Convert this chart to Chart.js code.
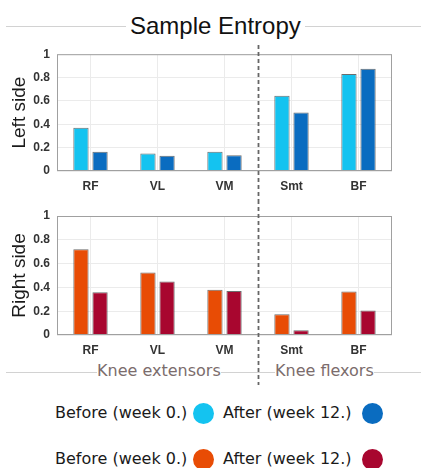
<!DOCTYPE html>
<html>
<head>
<meta charset="utf-8">
<script src="https://cdn.jsdelivr.net/npm/chart.js@4.4.1/dist/chart.umd.min.js"></script>
<style>
  html, body { margin: 0; padding: 0; background: #fff; }
  #page { position: relative; width: 422px; height: 468px; overflow: hidden; }
  .rule { position: absolute; left: 6px; width: 415px; height: 1px; background: #d2d2d2; }
  canvas { position: absolute; left: 0; }
  .lbl { position: absolute; background: #fff; white-space: nowrap; z-index: 2; }
  #title { top: 12px; left: 126px; padding: 0 4px; font: 24px "Liberation Sans", Arial, sans-serif; color: #111; }
  .group { top: 361px; font: 16px "DejaVu Sans", Verdana, sans-serif; color: #7b6c6c; }
  .leg { position: absolute; font: 16px "DejaVu Sans", Verdana, sans-serif; color: #1a1a1a; white-space: nowrap; }
  .dot { position: absolute; width: 21px; height: 21px; border-radius: 50%; }
</style>
</head>
<body>
<div id="page">
  <div class="rule" style="top:26px"></div>
  <div class="rule" style="top:372px"></div>
  <div id="title" class="lbl">Sample Entropy</div>
  <canvas id="leftChart" width="422" height="160" style="top:40px"></canvas>
  <canvas id="rightChart" width="422" height="185" style="top:200px"></canvas>
  <div class="lbl group" style="left:97px">Knee extensors</div>
  <div class="lbl group" style="left:275px">Knee flexors</div>
  <div id="legend"></div>
</div>
<script>
const muscles = ['RF', 'VL', 'VM', 'Smt', 'BF'];
const leftBefore = [0.37, 0.15, 0.165, 0.645, 0.83];
const leftAfter = [0.165, 0.13, 0.135, 0.50, 0.875];
const rightBefore = [0.72, 0.525, 0.38, 0.175, 0.365];
const rightAfter = [0.36, 0.45, 0.37, 0.04, 0.205];

const seriesNames = ['Before (week 0.)', 'After (week 12.)'];
const leftColors = ['#14c3f0', '#0a6cc0'];
const rightColors = ['#e84c05', '#a8062f'];

// box around the plot + dotted divider between extensors and flexors
const framePlugin = {
    id: 'frame',
    afterDraw(chart, args, opts) {
        const { ctx, chartArea: a, scales: { x } } = chart;
        ctx.save();
        ctx.strokeStyle = '#a0a0a0';
        ctx.lineWidth = 1;
        ctx.strokeRect(a.left + 0.5, a.top + 0.5, a.width - 1, a.height - 1);
        const dx = Math.round((x.getPixelForValue(2) + x.getPixelForValue(3)) / 2) + 0.5;
        ctx.setLineDash([4, 3]);
        ctx.strokeStyle = '#666';
        ctx.lineWidth = 1.8;
        ctx.beginPath();
        ctx.moveTo(dx, opts.from);
        ctx.lineTo(dx, opts.to);
        ctx.stroke();
        ctx.restore();
    }
};

function makeChart(id, yTitle, before, after, colors, xHeight, padTop, dash) {
    const ctx = document.getElementById(id).getContext('2d');
    return new Chart(ctx, {
        type: 'bar',
        data: {
            labels: muscles,
            datasets: [
                { label: seriesNames[0], data: before, backgroundColor: colors[0] },
                { label: seriesNames[1], data: after, backgroundColor: colors[1] }
            ]
        },
        options: {
            responsive: false,
            animation: false,
            devicePixelRatio: 1,
            layout: { padding: { top: padTop, right: 30, left: 0, bottom: 0 } },
            datasets: {
                bar: {
                    categoryPercentage: 0.57,
                    barPercentage: 0.8,
                    borderWidth: 1,
                    borderColor: 'rgba(60,60,60,0.75)'
                }
            },
            scales: {
                x: {
                    grid: { offset: false, color: '#ebebeb', drawTicks: false },
                    border: { display: false },
                    ticks: {
                        padding: 8,
                        color: '#333',
                        font: { family: '"Liberation Sans", Arial, sans-serif', size: 12, weight: 'bold' }
                    },
                    afterFit(scale) { scale.height = xHeight; }
                },
                y: {
                    min: 0,
                    max: 1,
                    grid: { color: '#ebebeb', drawTicks: false },
                    border: { display: false },
                    ticks: {
                        stepSize: 0.2,
                        padding: 7,
                        color: '#333',
                        font: { family: '"Liberation Sans", Arial, sans-serif', size: 12, weight: 'bold' },
                        callback: v => String(Number(v.toFixed(1)))
                    },
                    title: {
                        display: true,
                        text: yTitle,
                        color: '#1a1a1a',
                        padding: { top: 8, bottom: 0 },
                        font: { family: '"Liberation Sans", Arial, sans-serif', size: 19 }
                    },
                    afterFit(scale) { scale.width = 57; }
                }
            },
            plugins: {
                legend: { display: false },
                tooltip: { enabled: false },
                frame: dash
            }
        },
        plugins: [framePlugin]
    });
}

makeChart('leftChart', 'Left side', leftBefore, leftAfter, leftColors, 29, 13, { from: 5, to: 160 });
makeChart('rightChart', 'Right side', rightBefore, rightAfter, rightColors, 50, 16, { from: 0, to: 185 });

// legend rows: text followed by a filled circle
function addLegendRow(colors, centerY) {
    const host = document.getElementById('legend');
    const items = [
        { text: seriesNames[0], left: 55, dot: 203, color: colors[0] },
        { text: seriesNames[1], left: 223, dot: 372, color: colors[1] }
    ];
    for (const it of items) {
        const t = document.createElement('div');
        t.className = 'leg';
        t.textContent = it.text;
        t.style.left = it.left + 'px';
        t.style.top = (centerY - 10) + 'px';
        host.appendChild(t);
        const d = document.createElement('div');
        d.className = 'dot';
        d.style.background = it.color;
        d.style.left = (it.dot - 10.5) + 'px';
        d.style.top = (centerY - 10.5) + 'px';
        host.appendChild(d);
    }
}
addLegendRow(leftColors, 413);
addLegendRow(rightColors, 459);
</script>
</body>
</html>
